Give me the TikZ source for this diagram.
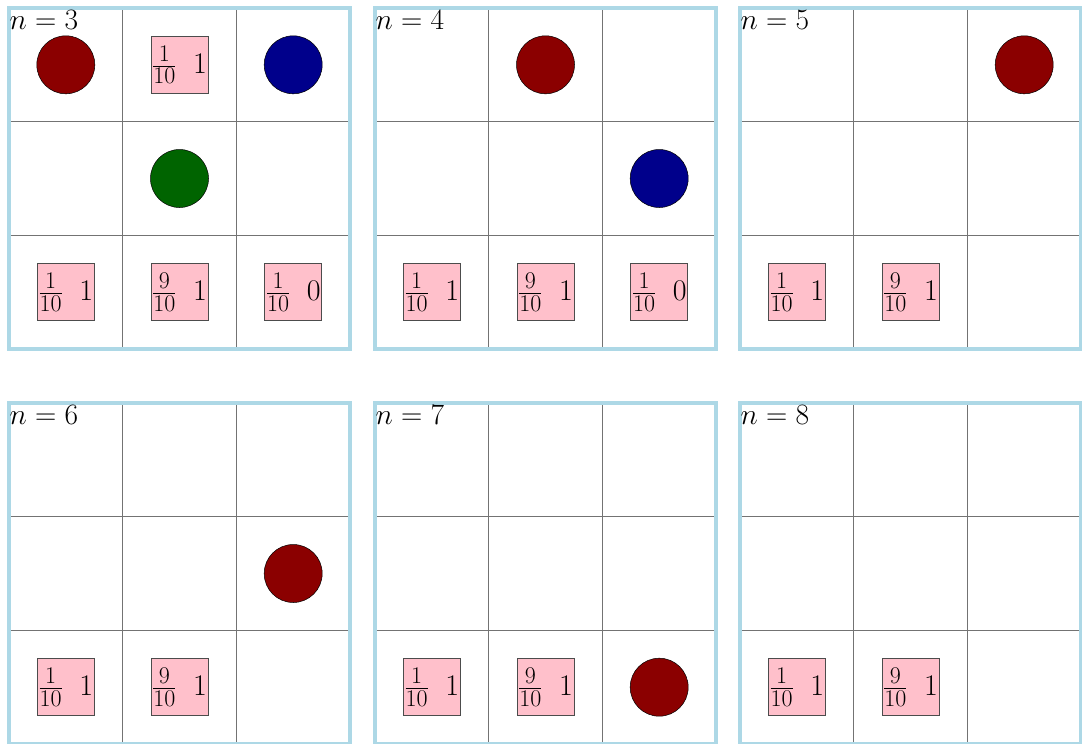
\RequirePackage{fix-cm}
\documentclass[tikz,border=0pt]{standalone}
\definecolor{panelblue}{RGB}{173,216,230}
\definecolor{cardpink}{RGB}{255,192,203}
\definecolor{tokred}{RGB}{139,0,0}
\definecolor{tokblue}{RGB}{0,0,139}
\definecolor{tokgreen}{RGB}{0,100,0}
\newcommand\gridpanel[1]{%
  \draw[gridline] (113.67,0) -- (113.67,341) (227.33,0) -- (227.33,341)
                  (0,113.67) -- (341,113.67) (0,227.33) -- (341,227.33);
  \draw[panelframe] (0,0) rectangle (341,341);
  \node[lab] (lab#1) at (0.5,21.7) {$n=#1$};}
\newcommand\fracdigits[1]{\mbox{\fontsize{24}{26}\selectfont #1}}
\newcommand\cardtext[2]{$\frac{\fracdigits{#1}}{\fracdigits{10}}\hspace{0.55em}#2$}
\begin{document}
\begin{tikzpicture}[x=1pt,y=-1pt,
  gridline/.style={draw=black!55, line width=0.9pt},
  panelframe/.style={draw=panelblue, line width=3.6pt},
  lab/.style={anchor=base west, inner sep=0pt, font=\fontsize{29.5}{36}\selectfont},
  card/.style={rectangle, fill=cardpink, draw=black!70, line width=0.6pt, minimum size=57pt, inner sep=0pt, font=\fontsize{30}{36}\selectfont},
  tok/.style={circle, draw=black, line width=0.5pt, minimum size=58pt, inner sep=0pt, fill=#1}]
\useasboundingbox (0,0) rectangle (1082,744);
% n = 3
\begin{scope}[shift={(9,8)}]
  \gridpanel{3}
  \node[tok=tokred]   (a11) at (56.8,56.8) {};
  \node[card]         (a12) at (170.5,56.8) {\cardtext{1}{1}};
  \node[tok=tokblue]  (a13) at (284.2,56.8) {};
  \node[tok=tokgreen] (a22) at (170.5,170.5) {};
  \node[card]         (a31) at (56.8,284.2) {\cardtext{1}{1}};
  \node[card]         (a32) at (170.5,284.2) {\cardtext{9}{1}};
  \node[card]         (a33) at (284.2,284.2) {\cardtext{1}{0}};
\end{scope}
% n = 4
\begin{scope}[shift={(375,8)}]
  \gridpanel{4}
  \node[tok=tokred]   (b12) at (170.5,56.8) {};
  \node[tok=tokblue]  (b23) at (284.2,170.5) {};
  \node[card]         (b31) at (56.8,284.2) {\cardtext{1}{1}};
  \node[card]         (b32) at (170.5,284.2) {\cardtext{9}{1}};
  \node[card]         (b33) at (284.2,284.2) {\cardtext{1}{0}};
\end{scope}
% n = 5
\begin{scope}[shift={(740,8)}]
  \gridpanel{5}
  \node[tok=tokred]   (c13) at (284.2,56.8) {};
  \node[card]         (c31) at (56.8,284.2) {\cardtext{1}{1}};
  \node[card]         (c32) at (170.5,284.2) {\cardtext{9}{1}};
\end{scope}
% n = 6
\begin{scope}[shift={(9,403)}]
  \gridpanel{6}
  \node[tok=tokred]   (d23) at (284.2,170.5) {};
  \node[card]         (d31) at (56.8,284.2) {\cardtext{1}{1}};
  \node[card]         (d32) at (170.5,284.2) {\cardtext{9}{1}};
\end{scope}
% n = 7
\begin{scope}[shift={(375,403)}]
  \gridpanel{7}
  \node[tok=tokred]   (e33) at (284.2,284.2) {};
  \node[card]         (e31) at (56.8,284.2) {\cardtext{1}{1}};
  \node[card]         (e32) at (170.5,284.2) {\cardtext{9}{1}};
\end{scope}
% n = 8
\begin{scope}[shift={(740,403)}]
  \gridpanel{8}
  \node[card]         (f31) at (56.8,284.2) {\cardtext{1}{1}};
  \node[card]         (f32) at (170.5,284.2) {\cardtext{9}{1}};
\end{scope}
\end{tikzpicture}
\end{document}
